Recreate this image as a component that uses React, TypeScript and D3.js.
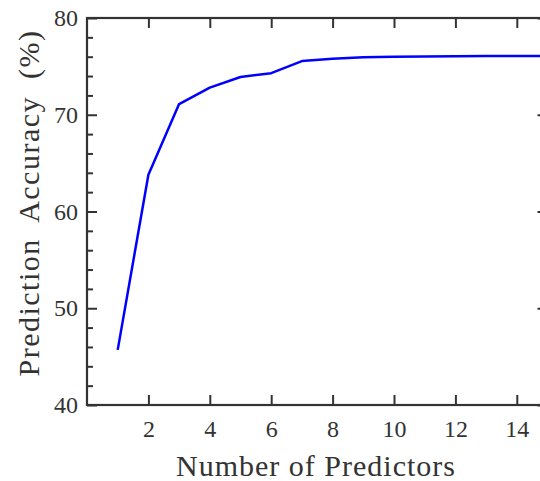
import React, { useEffect, useRef } from 'react';
import * as d3 from 'd3';

const predictors = [1, 2, 3, 4, 5, 6, 7, 8, 9, 10, 11, 12, 13, 14, 15];
const accuracy = [45.7, 63.8, 71.1, 72.8, 73.9, 74.3, 75.55, 75.8, 75.95, 76.0, 76.03, 76.05, 76.06, 76.07, 76.08];
const xTicks = [2, 4, 6, 8, 10, 12, 14];
const yTicks = [40, 50, 60, 70, 80];
const yMinorTicks = [42, 44, 46, 48, 52, 54, 56, 58, 62, 64, 66, 68, 72, 74, 76, 78];

const App = () => {
    const ref = useRef<SVGSVGElement>(null);

    useEffect(() => {
        const width = 540;
        const height = 481;
        const margin = { top: 18, left: 87, bottom: 405, right: 547.5 };
        const axisColor = '#333';
        const font = '"Liberation Serif", "DejaVu Serif", serif';

        const svg = d3.select(ref.current)
            .attr('width', width)
            .attr('height', height);
        svg.selectAll('*').remove();

        const x = d3.scaleLinear().domain([0, 15]).range([margin.left, margin.right]);
        const y = d3.scaleLinear().domain([40, 80]).range([margin.bottom, margin.top]);

        const styleAxis = (g: any, showLabels: boolean) => {
            g.select('.domain').remove();
            g.selectAll('.tick line').attr('stroke', axisColor).attr('stroke-width', 2);
            g.selectAll('.tick text')
                .attr('fill', axisColor)
                .style('font-family', font)
                .style('font-size', '24px')
                .style('display', showLabels ? null : 'none');
        };

        // bottom / top
        svg.append('g')
            .attr('transform', `translate(0,${margin.bottom})`)
            .call(d3.axisBottom(x).tickValues(xTicks).tickSize(-10).tickPadding(15))
            .call((g: any) => styleAxis(g, true));
        svg.append('g')
            .attr('transform', `translate(0,${margin.top})`)
            .call(d3.axisTop(x).tickValues(xTicks).tickSize(-10))
            .call((g: any) => styleAxis(g, false));

        // left / right, major and minor
        svg.append('g')
            .attr('transform', `translate(${margin.left},0)`)
            .call(d3.axisLeft(y).tickValues(yTicks).tickSize(-10).tickPadding(9))
            .call((g: any) => styleAxis(g, true));
        svg.append('g')
            .attr('transform', `translate(${margin.left},0)`)
            .call(d3.axisLeft(y).tickValues(yMinorTicks).tickSize(-6))
            .call((g: any) => styleAxis(g, false));
        svg.append('g')
            .attr('transform', `translate(${margin.right},0)`)
            .call(d3.axisRight(y).tickValues(yTicks).tickSize(-10))
            .call((g: any) => styleAxis(g, false));
        svg.append('g')
            .attr('transform', `translate(${margin.right},0)`)
            .call(d3.axisRight(y).tickValues(yMinorTicks).tickSize(-6))
            .call((g: any) => styleAxis(g, false));

        // box
        svg.append('rect')
            .attr('x', margin.left)
            .attr('y', margin.top)
            .attr('width', margin.right - margin.left)
            .attr('height', margin.bottom - margin.top)
            .attr('fill', 'none')
            .attr('stroke', axisColor)
            .attr('stroke-width', 2.2);

        const line = d3.line<number>()
            .x((_, i) => x(predictors[i]))
            .y(d => y(d));

        svg.append('path')
            .datum(accuracy)
            .attr('d', line)
            .attr('fill', 'none')
            .attr('stroke', '#0000ff')
            .attr('stroke-width', 2.5)
            .attr('stroke-linejoin', 'round');

        // axis titles
        svg.append('text')
            .attr('x', 316)
            .attr('y', 476)
            .attr('text-anchor', 'middle')
            .attr('fill', axisColor)
            .style('font-family', font)
            .style('font-size', '30px')
            .style('letter-spacing', '1px')
            .text('Number of Predictors');

        svg.append('text')
            .attr('transform', `translate(39,203) rotate(-90)`)
            .attr('text-anchor', 'middle')
            .attr('fill', axisColor)
            .style('font-family', font)
            .style('font-size', '30px')
            .style('letter-spacing', '1.5px')
            .style('word-spacing', '8px')
            .text('Prediction Accuracy (%)');
    }, []);

    return <svg ref={ref} style={{ position: 'absolute', left: 0, top: 0 }}></svg>;
};

export default App;
